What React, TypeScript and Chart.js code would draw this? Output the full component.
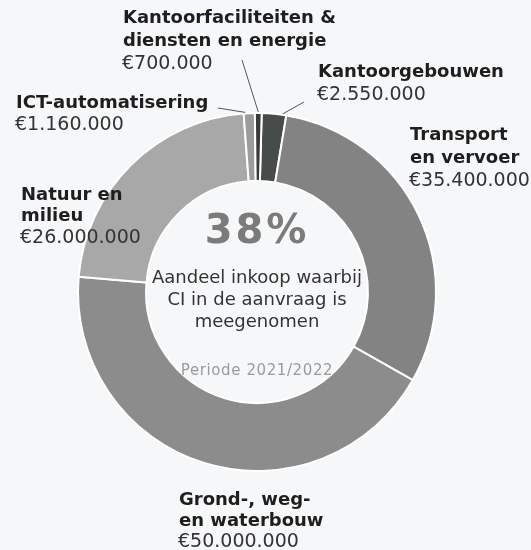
import React, { useEffect, useRef } from "react";
import { Chart, registerables } from "chart.js";

Chart.register(...registerables);

const categories = [
  "Kantoorgebouwen",
  "Transport en vervoer",
  "Grond-, weg- en waterbouw",
  "Natuur en milieu",
  "ICT-automatisering",
  "Kantoorfaciliteiten & diensten en energie",
];
const values = [2550000, 35400000, 50000000, 26000000, 1160000, 700000];
const valueLabels = ["€2.550.000", "€35.400.000", "€50.000.000", "€26.000.000", "€1.160.000", "€700.000"];
const titleLines = [
  ["Kantoorgebouwen"],
  ["Transport", "en vervoer"],
  ["Grond-, weg-", "en waterbouw"],
  ["Natuur en", "milieu"],
  ["ICT-automatisering"],
  ["Kantoorfaciliteiten &", "diensten en energie"],
];
const colors = ["#474b49", "#838383", "#8c8c8c", "#a8a8a8", "#9c9c9c", "#3a3a3a"];
const centerPercent = "38%";
const centerLines = ["Aandeel inkoop waarbij", "CI in de aanvraag is", "meegenomen"];
const periodText = "Periode 2021/2022";

// label layout (positions of text blocks and leader lines)
const labelLayout = [
  { x: 318, y: 72, lh: 23, leader: { x: 304, y: 102, frac: 0.85 } },
  { x: 410, y: 135, lh: 23 },
  { x: 179, y: 500, lh: 21 },
  { x: 21, y: 195, lh: 21.5 },
  { x: 16, y: 103, lh: 22 },
  { x: 123, y: 18, lh: 23, leader: { x: 242, y: 60, frac: 0.5 } },
];
const ictLeader = { x: 218, y: 108, frac: 0.15 };

const FONT = "'DejaVu Sans', Verdana, sans-serif";

const labelPlugin = {
  id: "labelPlugin",
  afterDraw(chart: any) {
    const ctx = chart.ctx;
    const meta = chart.getDatasetMeta(0);
    ctx.save();
    // leader lines
    meta.data.forEach((arc: any, i: number) => {
      const l = i === 4 ? ictLeader : (labelLayout[i] as any).leader;
      if (!l) return;
      const p = arc.getProps(["x", "y", "startAngle", "endAngle", "outerRadius"], true);
      const a = p.startAngle + (p.endAngle - p.startAngle) * l.frac;
      const ex = p.x + Math.cos(a) * (p.outerRadius + 1);
      const ey = p.y + Math.sin(a) * (p.outerRadius + 1);
      ctx.strokeStyle = "#555";
      ctx.lineWidth = 1;
      ctx.beginPath();
      ctx.moveTo(l.x, l.y);
      ctx.lineTo(ex, ey);
      ctx.stroke();
    });
    // labels
    ctx.textBaseline = "middle";
    ctx.textAlign = "left";
    labelLayout.forEach((pos, i) => {
      let y = pos.y;
      ctx.fillStyle = "#1e1e1e";
      ctx.font = `bold 18px ${FONT}`;
      titleLines[i].forEach((t) => {
        ctx.fillText(t, pos.x, y);
        y += pos.lh;
      });
      ctx.fillStyle = "#333";
      ctx.font = `19px ${FONT}`;
      ctx.fillText(valueLabels[i], pos.x - 1, y);
    });
    // center text
    const arc0 = meta.data[0];
    const cx = arc0.x;
    ctx.textAlign = "center";
    ctx.fillStyle = "#7b7b7b";
    ctx.font = `bold 40px ${FONT}`;
    (ctx as any).letterSpacing = "3px";
    ctx.fillText(centerPercent, cx, 233);
    (ctx as any).letterSpacing = "0px";
    ctx.fillStyle = "#333";
    ctx.font = `18px ${FONT}`;
    centerLines.forEach((t, k) => ctx.fillText(t, cx, 278 + k * 22));
    ctx.fillStyle = "#9a9a9a";
    ctx.font = `15px ${FONT}`;
    (ctx as any).letterSpacing = "0.6px";
    ctx.fillText(periodText, cx, 371);
    (ctx as any).letterSpacing = "0px";
    ctx.restore();
  },
};

export default function App() {
  const ref = useRef<HTMLCanvasElement>(null);
  useEffect(() => {
    if (!ref.current) return;
    const chart = new Chart(ref.current, {
      type: "doughnut",
      data: {
        labels: categories,
        datasets: [
          {
            data: values,
            backgroundColor: colors,
            borderColor: "#ffffff",
            borderWidth: 2,
          },
        ],
      },
      options: {
        responsive: false,
        maintainAspectRatio: false,
        animation: false,
        rotation: 1.5,
        cutout: "62%",
        layout: { padding: { left: 77, right: 94, top: 112, bottom: 78 } },
        plugins: { legend: { display: false }, tooltip: { enabled: false } },
      },
      plugins: [labelPlugin],
    });
    return () => chart.destroy();
  }, []);
  return (
    <div style={{ position: "absolute", left: 0, top: 0, width: 531, height: 550, background: "#f6f7f9" }}>
      <canvas ref={ref} width={531} height={550} />
    </div>
  );
}
